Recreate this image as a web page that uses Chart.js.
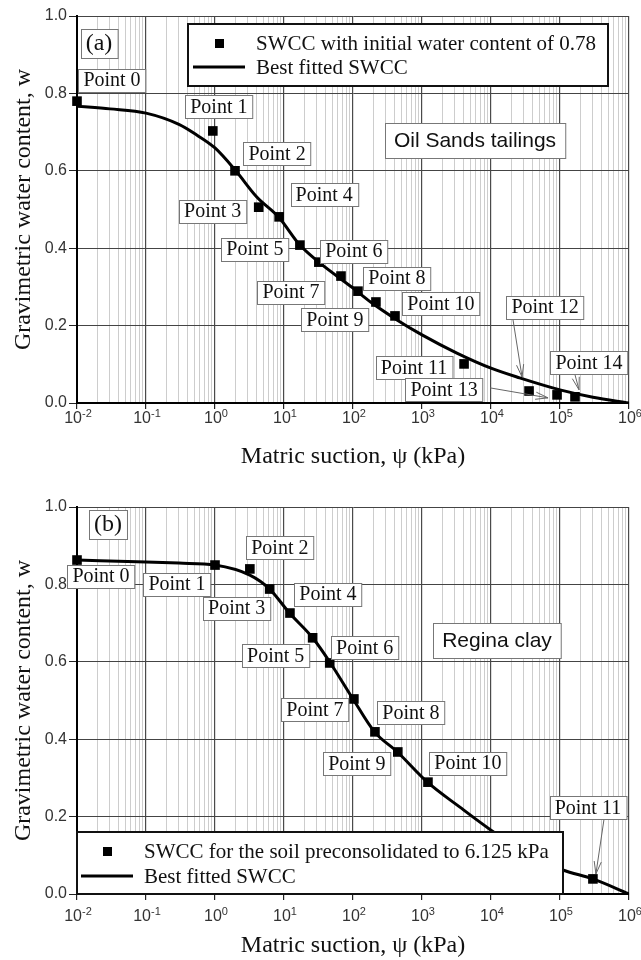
<!DOCTYPE html>
<html>
<head>
<meta charset="utf-8">
<script src="https://cdn.jsdelivr.net/npm/chart.js@4.4.0/dist/chart.umd.min.js"></script>
<style>
  html, body { margin: 0; padding: 0; background: #fff; }
  canvas { display: block; }
</style>
</head>
<body>
<canvas id="chartA" width="641" height="480"></canvas>
<canvas id="chartB" width="641" height="480"></canvas>
<script>
// (a) Oil Sands tailings - measured points and fitted curve
const suctionA = [0.01, 0.93, 1.95, 4.3, 8.5, 17, 32, 67, 118, 215, 406, 4070, 35600, 90600, 165000];
const waterA = [0.78, 0.703, 0.60, 0.506, 0.481, 0.408, 0.364, 0.328, 0.289, 0.261, 0.225, 0.101, 0.031, 0.021, 0.016];
const fitSuctionA = [0.01, 0.03, 0.1, 0.3, 0.55, 1, 2, 4, 8.4, 17, 33, 100, 180, 440, 1000, 3200, 10000, 26000, 100000, 300000, 1000000];
const fitWaterA = [0.767, 0.76, 0.749, 0.72, 0.692, 0.659, 0.60, 0.533, 0.48, 0.408, 0.362, 0.297, 0.261, 0.214, 0.176, 0.129, 0.090, 0.065, 0.034, 0.015, 0.0];

// (b) Regina clay
const suctionB = [0.01, 1.0, 3.2, 6.2, 12.2, 26, 46, 103, 208, 446, 1220, 300000];
const waterB = [0.863, 0.85, 0.84, 0.788, 0.726, 0.662, 0.597, 0.504, 0.419, 0.367, 0.289, 0.039];
const fitSuctionB = [0.01, 0.1, 0.3, 1, 3.2, 6.2, 12, 26, 47, 100, 205, 440, 1200, 3500, 10000, 30000, 110000, 300000, 1000000];
const fitWaterB = [0.863, 0.858, 0.855, 0.850, 0.824, 0.788, 0.726, 0.662, 0.597, 0.504, 0.419, 0.367, 0.289, 0.225, 0.165, 0.11, 0.062, 0.039, 0.0];

// axes
const decades = [-2, -1, 0, 1, 2, 3, 4, 5, 6];
const minorSteps = [1, 2, 3, 4, 5, 6, 7, 8, 9];
const waterTicks = [0, 0.2, 0.4, 0.6, 0.8, 1.0];

const serif = "'Liberation Serif', 'Times New Roman', Times, serif";
const sans = "'Liberation Sans', Arial, Helvetica, sans-serif";

// label box placement, offset from each marker (px)
const labelOffsetsA = [[35, -21], [6, -24], [42, -17], [-46, 4], [45, -22], [-45, 4], [35, -11], [-50, 16],
  [39, -13], [-41, 18], [46, -12], [-50, 4], [16, -84], [-113, -5], [14, -34]];
const arrowsA = [
  { point: 12, from: [-32, 13], to: [-7, -14] },
  { point: 13, from: [46, -2], to: [-9, 3] },
  { point: 14, from: [-14, 12], to: [4, -7] }
];
const labelOffsetsB = [[24, 16], [-38, 19], [30, -21], [-33, 19], [38, -19], [-37, 18], [35, -15], [-39, 11],
  [36, -19], [-41, 12], [40, -19], [-5, -71]];
const arrowsB = [{ point: 11, from: [16, 12], to: [3, -5] }];

function boxedText(ctx, text, cx, cy, font, padX, h, stroke, lw) {
  ctx.font = font;
  const w = ctx.measureText(text).width + padX * 2;
  const x = Math.round(cx - w / 2) + 0.5, y = Math.round(cy - h / 2) + 0.5;
  ctx.fillStyle = '#fff';
  ctx.fillRect(x, y, w, h);
  ctx.strokeStyle = stroke;
  ctx.lineWidth = lw;
  ctx.strokeRect(x, y, w, h);
  ctx.fillStyle = '#111';
  ctx.textAlign = 'center';
  ctx.textBaseline = 'middle';
  ctx.fillText(text, cx, cy + 1);
}

function arrow(ctx, x1, y1, x2, y2) {
  const a = Math.atan2(y2 - y1, x2 - x1);
  const len = 13, spread = 0.28;
  ctx.strokeStyle = '#666';
  ctx.lineWidth = 1;
  ctx.beginPath();
  ctx.moveTo(x1, y1);
  ctx.lineTo(x2, y2);
  ctx.moveTo(x2 - len * Math.cos(a - spread), y2 - len * Math.sin(a - spread));
  ctx.lineTo(x2, y2);
  ctx.lineTo(x2 - len * Math.cos(a + spread), y2 - len * Math.sin(a + spread));
  ctx.stroke();
}

const swccNotes = {
  id: 'swccNotes',
  afterDatasetsDraw(chart, args, opts) {
    const ctx = chart.ctx;
    const pts = chart.getDatasetMeta(0).data;
    ctx.save();

    // point labels and leader arrows
    opts.offsets.forEach((o, i) => {
      boxedText(ctx, 'Point ' + i, pts[i].x + o[0], pts[i].y + o[1], '20px ' + serif, 5, 23, '#777', 1);
    });
    opts.arrows.forEach(a => {
      const p = pts[a.point], o = opts.offsets[a.point];
      arrow(ctx, p.x + o[0] + a.from[0], p.y + o[1] + a.from[1], p.x + a.to[0], p.y + a.to[1]);
    });

    // panel tag and material name
    boxedText(ctx, opts.tag.text, opts.tag.x, opts.tag.y, '24px ' + serif, 5, 29, '#777', 1);
    boxedText(ctx, opts.note.text, opts.note.x, opts.note.y, '21px ' + sans, 9, 35, '#777', 1);

    // legend
    const lg = opts.legend;
    ctx.fillStyle = '#fff';
    ctx.fillRect(lg.x, lg.y, lg.w, lg.h);
    ctx.strokeStyle = '#111';
    ctx.lineWidth = 2;
    ctx.strokeRect(lg.x, lg.y, lg.w, lg.h);
    const sets = chart.data.datasets;
    ctx.fillStyle = sets[0].pointBackgroundColor;
    ctx.fillRect(lg.x + lg.sym - 4, lg.y + lg.row1 - 4, 9, 9);
    ctx.strokeStyle = sets[1].borderColor;
    ctx.lineWidth = 3;
    ctx.beginPath();
    ctx.moveTo(lg.x + lg.sym - 26, lg.y + lg.row2);
    ctx.lineTo(lg.x + lg.sym + 26, lg.y + lg.row2);
    ctx.stroke();
    ctx.fillStyle = '#111';
    ctx.font = '21px ' + serif;
    ctx.textAlign = 'left';
    ctx.textBaseline = 'middle';
    ctx.fillText(sets[0].label, lg.x + lg.text, lg.y + lg.row1 + 1);
    ctx.fillText(sets[1].label, lg.x + lg.text, lg.y + lg.row2 + 1);
    ctx.restore();
  },
  afterDraw(chart, args, opts) {
    // decade labels 10^n under the log axis
    const { ctx, chartArea, scales: { x } } = chart;
    ctx.save();
    ctx.fillStyle = '#333';
    ctx.textAlign = 'left';
    ctx.textBaseline = 'middle';
    decades.forEach(k => {
      const px = x.getPixelForValue(Math.pow(10, k));
      const exp = String(k);
      ctx.font = '16px ' + sans;
      const bw = ctx.measureText('10').width;
      ctx.font = '11px ' + sans;
      const ew = ctx.measureText(exp).width;
      const left = px - (bw + ew) / 2 + 1;
      const y = chartArea.bottom + opts.tickLabelY;
      ctx.font = '16px ' + sans;
      ctx.fillText('10', left, y);
      ctx.font = '11px ' + sans;
      ctx.fillText(exp, left + bw, y - 5);
    });
    ctx.restore();
  }
};

function buildChart(id, cfg) {
  return new Chart(document.getElementById(id), {
    type: 'line',
    data: {
      datasets: [{
        label: cfg.pointLabel,
        data: cfg.suction.map((s, i) => ({ x: s, y: cfg.water[i] })),
        showLine: false,
        clip: 10,
        pointStyle: 'rect',
        pointRadius: 6.8,
        pointBorderWidth: 0,
        pointBackgroundColor: '#000'
      }, {
        label: 'Best fitted SWCC',
        data: cfg.fitSuction.map((s, i) => ({ x: s, y: cfg.fitWater[i] })),
        borderColor: '#000',
        borderWidth: 3,
        pointRadius: 0,
        cubicInterpolationMode: 'monotone',
        fill: false
      }]
    },
    options: {
      responsive: false,
      animation: false,
      devicePixelRatio: 1,
      layout: { padding: { left: 0, right: 12, top: cfg.padTop, bottom: 0 } },
      plugins: {
        legend: { display: false },
        tooltip: { enabled: false },
        swccNotes: cfg.notes
      },
      scales: {
        x: {
          type: 'logarithmic',
          min: 0.01,
          max: 1e6,
          afterBuildTicks: scale => {
            const ticks = [];
            decades.forEach(k => minorSteps.forEach(m => {
              if (k === 6 && m > 1) return;
              ticks.push({ value: m * Math.pow(10, k), major: m === 1 });
            }));
            scale.ticks = ticks;
          },
          afterFit: scale => { scale.height = cfg.xHeight; },
          ticks: { display: false, autoSkip: false },
          grid: {
            color: c => (c.tick && c.tick.major ? '#4a4a4a' : '#cdcdcd'),
            lineWidth: c => (c.tick && c.tick.major ? 1.2 : 1),
            tickColor: c => (c.tick && c.tick.major ? '#222' : 'rgba(0,0,0,0)'),
            tickLength: 6
          },
          border: { color: '#000', width: 2 },
          title: {
            display: true,
            text: 'Matric suction, \u03c8 (kPa)',
            font: { family: serif, size: 24 },
            color: '#111',
            padding: { top: 0, bottom: cfg.xTitlePad }
          }
        },
        y: {
          min: 0,
          max: 1,
          afterBuildTicks: scale => { scale.ticks = waterTicks.map(v => ({ value: v })); },
          afterFit: scale => { scale.width = 77; },
          ticks: {
            callback: v => v.toFixed(1),
            font: { family: sans, size: 16 },
            color: '#333',
            padding: 2
          },
          grid: { color: '#444', lineWidth: 1, tickColor: '#222', tickLength: 8 },
          border: { color: '#000', width: 2 },
          title: {
            display: true,
            text: 'Gravimetric water content, w',
            font: { family: serif, size: 24 },
            color: '#111',
            padding: { top: 9, bottom: 0 }
          }
        }
      }
    },
    plugins: [swccNotes]
  });
}

buildChart('chartA', {
  pointLabel: 'SWCC with initial water content of 0.78',
  suction: suctionA, water: waterA,
  fitSuction: fitSuctionA, fitWater: fitWaterA,
  padTop: 16, xHeight: 77, xTitlePad: 9,
  notes: {
    offsets: labelOffsetsA,
    arrows: arrowsA,
    tag: { text: '(a)', x: 99, y: 43 },
    note: { text: 'Oil Sands tailings', x: 475, y: 140 },
    legend: { x: 188, y: 24, w: 420, h: 62, sym: 31, text: 68, row1: 19, row2: 43 },
    tickLabelY: 16
  }
});

buildChart('chartB', {
  pointLabel: 'SWCC for the soil preconsolidated to 6.125 kPa',
  suction: suctionB, water: waterB,
  fitSuction: fitSuctionB, fitWater: fitWaterB,
  padTop: 27, xHeight: 66, xTitlePad: 0,
  notes: {
    offsets: labelOffsetsB,
    arrows: arrowsB,
    tag: { text: '(b)', x: 108, y: 44 },
    note: { text: 'Regina clay', x: 497, y: 160 },
    legend: { x: 77, y: 352, w: 486, h: 62, sym: 30, text: 67, row1: 19, row2: 44 },
    tickLabelY: 23
  }
});
</script>
</body>
</html>
